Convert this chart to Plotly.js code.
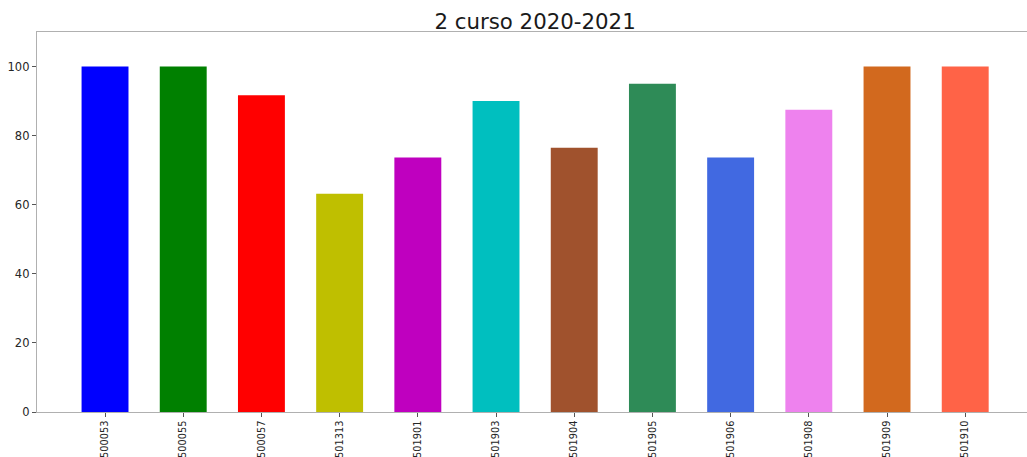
<!DOCTYPE html>
<html>
<head>
<meta charset="utf-8">
<script src="https://cdn.plot.ly/plotly-3.0.1.min.js"></script>
<style>html,body{margin:0;padding:0;background:#fff;}#chart{width:1027px;height:457px;}</style>
</head>
<body>
<div id="chart"></div>
<script>
const categories = ["500053","500055","500057","501313","501901","501903","501904","501905","501906","501908","501909","501910"];
const values = [100, 100, 91.67, 63.16, 73.68, 90, 76.47, 95, 73.68, 87.5, 100, 100];
const colors = ["#0000ff","#008000","#ff0000","#bfbf00","#bf00bf","#00bfbf","#a0522d","#2e8b57","#4169e1","#ee82ee","#d2691e","#ff6347"];
const yTicks = [0, 20, 40, 60, 80, 100];

const trace = {
  type: 'bar',
  x: categories,
  y: values,
  width: 0.6,
  marker: {color: colors, line: {width: 0}},
  hoverinfo: 'x+y'
};

const layout = {
  width: 1027, height: 457,
  margin: {l: 37, r: 0, t: 31.5, b: 44.7, pad: 0},
  paper_bgcolor: '#ffffff', plot_bgcolor: '#ffffff',
  font: {family: 'DejaVu Sans, sans-serif', color: '#262626', size: 12},
  showlegend: false,
  title: {text: '2 curso 2020-2021', font: {size: 21.3, color: '#1a1a1a'}, x: 0.521, xanchor: 'center', y: 1, yref: 'paper', yanchor: 'bottom', pad: {b: 3}},
  xaxis: {
    type: 'category',
    range: [-0.87, 11.79],
    showgrid: false, zeroline: false,
    showline: true, linecolor: '#b0b0b0', linewidth: 1.2, mirror: true,
    ticks: 'outside', ticklen: 3.5, tickcolor: '#555', tickwidth: 1,
    tickangle: -90,
    ticklabelstandoff: 0,
    tickfont: {size: 9.8, color: '#262626'}
  },
  yaxis: {
    range: [0, 110],
    tickvals: yTicks,
    showgrid: false, zeroline: false,
    showline: true, linecolor: '#b0b0b0', linewidth: 1.2,
    ticks: 'outside', ticklen: 4, tickcolor: '#555', tickwidth: 1,
    tickfont: {size: 11.5, color: '#262626'}
  }
};

Plotly.newPlot('chart', [trace], layout, {displayModeBar: false, staticPlot: true});
</script>
</body>
</html>
